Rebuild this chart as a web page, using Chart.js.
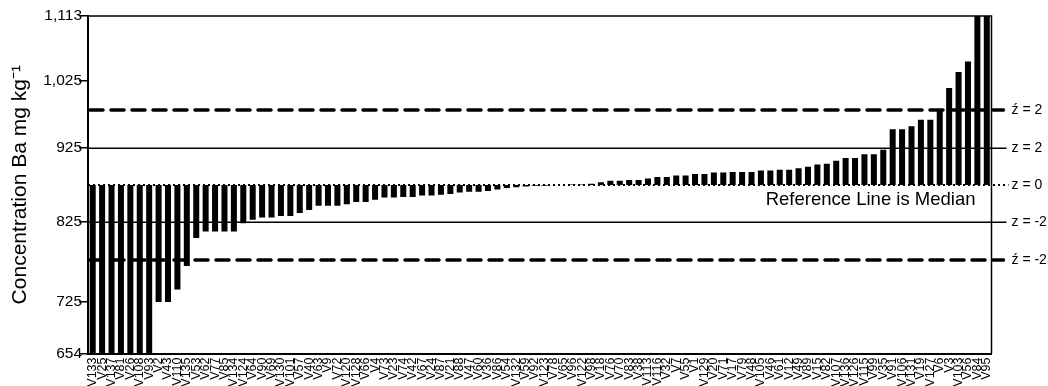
<!DOCTYPE html>
<html>
<head>
<meta charset="utf-8">
<script src="https://cdn.jsdelivr.net/npm/chart.js@4.4.1/dist/chart.umd.min.js"></script>
<style>
  html, body { margin: 0; padding: 0; background: #fff; }
</style>
</head>
<body>
<canvas id="chart" width="1048" height="386"></canvas>
<script>
// samples, sorted by concentration
const samples = [
  'V133', 'V25', 'V137', 'V81', 'V26', 'V108', 'V93', 'V2', 'V43', 'V110',
  'V135', 'V53', 'V62', 'V77', 'V85', 'V134', 'V124', 'V64', 'V90', 'V69',
  'V130', 'V101', 'V57', 'V40', 'V63', 'V9', 'V72', 'V120', 'V128', 'V66',
  'V4', 'V73', 'V23', 'V74', 'V42', 'V67', 'V24', 'V87', 'V21', 'V88',
  'V47', 'V60', 'V36', 'V86', 'V54', 'V132', 'V59', 'V92', 'V123', 'V78',
  'V65', 'V96', 'V122', 'V98', 'V18', 'V76', 'V70', 'V83', 'V38', 'V113',
  'V116', 'V32', 'V7', 'V55', 'V1', 'V129', 'V20', 'V71', 'V17', 'V79',
  'V48', 'V105', 'V46', 'V61', 'V12', 'V49', 'V89', 'V15', 'V82', 'V107',
  'V136', 'V126', 'V115', 'V99', 'V35', 'V91', 'V106', 'V131', 'V19', 'V127',
  'V6', 'V3', 'V103', 'V56', 'V84', 'V95'
];

// Ba, mg/kg
const concentrations = [
  590, 606, 618, 628, 636, 643, 649, 724, 724, 741,
  773, 811, 820, 820, 820, 820, 831, 836, 839, 839,
  841, 841, 845, 849, 855, 855, 855, 857, 860, 860,
  863, 866, 866, 867, 867, 869, 869, 870, 871, 873,
  874, 874, 875, 877, 879, 880, 881, 882, 882, 883,
  883, 884, 884, 885, 887, 889, 889, 890, 890, 892,
  894, 894, 896, 896, 898, 898, 900, 900, 901, 901,
  901, 903, 903, 904, 904, 906, 908, 911, 912, 916,
  920, 920, 925, 925, 931, 959, 959, 963, 972, 972,
  984, 1015, 1037, 1051, 1140, 1160
];

const median = 883.2;

// reference lines
const zValues = [933.5, 832.8];
const zLabels = ['z = 2', 'z = -2'];
const zPrimeValues = [985.2, 781.2];
const zPrimeLabels = ['\u017a = 2', '\u017a = -2'];

// y axis
const yMin = 654;
const yMax = 1113;
const tickValues = [654, 725, 832.8, 933.5, 1025, 1113];
const tickLabels = ['654', '725', '825', '925', '1,025', '1,113'];

const FONT = 'Liberation Sans, Arial, sans-serif';

const refLines = {
  id: 'refLines',
  afterDatasetsDraw(chart) {
    const { ctx, chartArea } = chart;
    const y = chart.scales.y;
    const left = chartArea.left;
    const right = chartArea.right;

    ctx.save();
    ctx.strokeStyle = '#000';
    ctx.fillStyle = '#000';
    ctx.font = '14px ' + FONT;
    ctx.textBaseline = 'middle';
    ctx.textAlign = 'left';

    // solid z lines
    ctx.lineWidth = 1.5;
    zValues.forEach((v, i) => {
      const py = Math.round(y.getPixelForValue(v)) + 0.25;
      ctx.beginPath();
      ctx.moveTo(left, py);
      ctx.lineTo(right + 15, py);
      ctx.stroke();
      ctx.fillText(zLabels[i], right + 20, py);
    });

    // dashed lines
    ctx.lineWidth = 3.5;
    ctx.setLineDash([13, 8]);
    ctx.lineCap = 'round';
    zPrimeValues.forEach((v, i) => {
      const py = y.getPixelForValue(v);
      ctx.beginPath();
      ctx.moveTo(left + 2, py);
      ctx.lineTo(right + 12, py);
      ctx.stroke();
      ctx.fillText(zPrimeLabels[i], right + 20, py);
    });

    // median dotted line
    ctx.lineCap = 'butt';
    ctx.lineWidth = 2;
    ctx.setLineDash([2, 3]);
    const my = y.getPixelForValue(median);
    ctx.beginPath();
    ctx.moveTo(left, my);
    ctx.lineTo(right + 17, my);
    ctx.stroke();
    ctx.setLineDash([]);
    ctx.fillText('z = 0', right + 20, my);

    ctx.font = '18.5px ' + FONT;
    ctx.textAlign = 'right';
    ctx.fillText('Reference Line is Median', right - 16, my + 15);

    // top / right frame
    ctx.lineWidth = 1.5;
    ctx.beginPath();
    ctx.moveTo(left, chartArea.top);
    ctx.lineTo(right, chartArea.top);
    ctx.lineTo(right, chartArea.bottom);
    ctx.stroke();
    ctx.restore();
  }
};

new Chart(document.getElementById('chart'), {
  type: 'bar',
  data: {
    labels: samples,
    datasets: [{
      data: concentrations.map(v => [median, v]),
      backgroundColor: '#000',
      borderWidth: 0,
      barPercentage: 0.64,
      categoryPercentage: 1,
      clip: 0
    }]
  },
  options: {
    responsive: false,
    animation: false,
    devicePixelRatio: 1,
    layout: { padding: { top: 16, right: 56.5, left: 0, bottom: 0 } },
    plugins: {
      legend: { display: false },
      tooltip: { enabled: false }
    },
    scales: {
      x: {
        grid: { display: false, drawTicks: false },
        border: { display: true, color: '#000', width: 2 },
        ticks: {
          autoSkip: false,
          minRotation: 90,
          maxRotation: 90,
          padding: 4,
          color: '#000',
          font: { family: FONT, size: 12.5 }
        },
        afterFit: (scale) => { scale.height = 32.5; }
      },
      y: {
        min: yMin,
        max: yMax,
        afterBuildTicks: (scale) => {
          scale.ticks = tickValues.map(v => ({ value: v }));
        },
        grid: {
          drawOnChartArea: false,
          drawTicks: true,
          tickLength: 9,
          color: '#000',
          lineWidth: 1.5
        },
        border: { display: true, color: '#000', width: 2 },
        ticks: {
          padding: -3,
          color: '#000',
          font: { family: FONT, size: 15.5 },
          callback: (value, index) => tickLabels[index]
        },
        title: {
          display: true,
          text: 'Concentration Ba mg kg\u207b\u00b9',
          color: '#000',
          font: { family: FONT, size: 21 },
          padding: { top: 8, bottom: 0 }
        },
        afterFit: (scale) => { scale.width = 88; }
      }
    }
  },
  plugins: [refLines]
});
</script>
</body>
</html>
